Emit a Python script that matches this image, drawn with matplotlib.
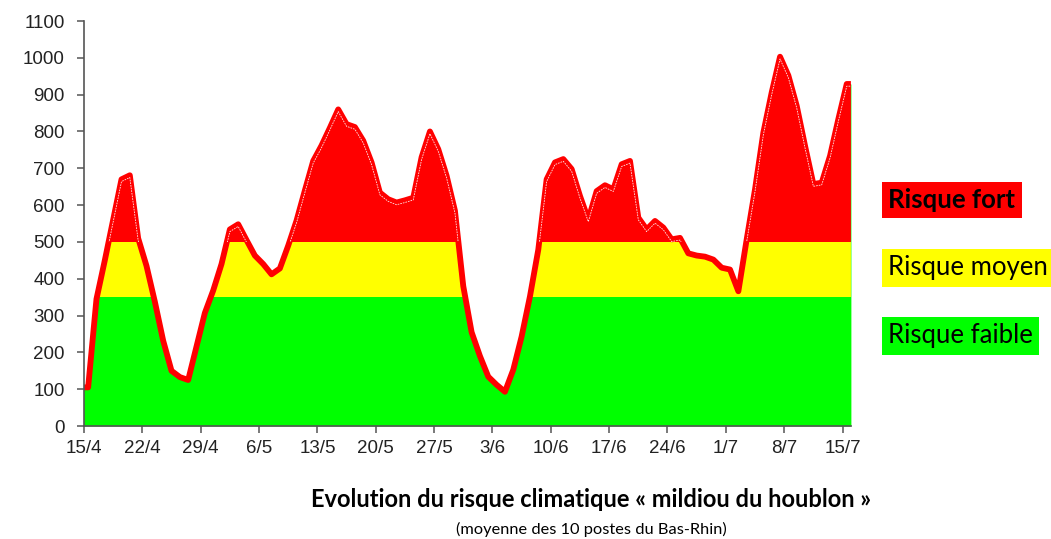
import numpy as np
import matplotlib
matplotlib.use('Agg')
import matplotlib.pyplot as plt

# Daily risk index (mean of 10 stations), starting 15/4
risk = [105, 345, 450, 560, 670, 681, 510, 435, 338, 232,
        150, 133, 125, 216, 307, 368, 440, 534, 548, 505,
        463, 440, 412, 428, 490, 558, 640, 720, 762, 810,
        860, 820, 812, 775, 716, 634, 616, 607, 613, 620,
        730, 800, 752, 680, 585, 380, 255, 190, 134, 112,
        93, 153, 243, 352, 479, 670, 716, 725, 698, 625,
        561, 638, 654, 643, 711, 720, 566, 534, 557, 539,
        507, 511, 469, 463, 460, 452, 430, 425, 366, 507,
        643, 797, 906, 1003, 952, 870, 761, 657, 661, 734,
        834, 929]
tick_labels = ['15/4', '22/4', '29/4', '6/5', '13/5', '20/5', '27/5',
               '3/6', '10/6', '17/6', '24/6', '1/7', '8/7', '15/7']
thresholds = [350, 500]
band_labels = ['Risque faible', 'Risque moyen', 'Risque fort']
band_colors = ['#00FF00', '#FFFF00', '#FF0000']
title = 'Evolution du risque climatique « mildiou du houblon »'
subtitle = '(moyenne des 10 postes du Bas-Rhin)'

v = np.array(risk, dtype=float)
n = len(v)
x = np.arange(n) + 0.5
# extend to the plot edges (category-style axis)
xe = np.concatenate([[0], x, [n]])
ve = np.concatenate([[v[0]], v, [v[-1]]])

fig = plt.figure(figsize=(10.51, 5.39), dpi=100)
ax = fig.add_axes([0.0799, 0.2096, 0.7297, 0.7514])
ymax = 1100
ax.set_xlim(0, n)
ax.set_ylim(0, ymax)

poly = ax.fill_between(xe, 0, ve, color=band_colors[0], lw=0, zorder=1)
clip_path = poly.get_paths()[0]
edges = [0] + thresholds + [ymax]
spans = []
for lo, hi, c in zip(edges[:-1], edges[1:], band_colors):
    sp = ax.axhspan(lo, hi, color=c, lw=0, zorder=2)
    sp.set_clip_path(clip_path, ax.transData)
    spans.append(sp)

ax.plot(xe, ve, color='#FF0000', lw=4.2, zorder=4, solid_joinstyle='round',
        solid_capstyle='butt')
wl, = ax.plot(xe, ve - 6, color='white', lw=0.6, ls=(0, (2, 1.2)), zorder=5,
              alpha=0.9)
wl.set_clip_path(spans[2])

ax.set_xticks(np.arange(0, n, 7))
ax.set_xticklabels(tick_labels)
ax.set_yticks(np.arange(0, ymax + 1, 100))
for s in ['top', 'right']:
    ax.spines[s].set_visible(False)
for s in ['left', 'bottom']:
    ax.spines[s].set_color('#555555')
    ax.spines[s].set_linewidth(1.2)
    ax.spines[s].set_zorder(6)
ax.tick_params(axis='both', colors='#555555', length=5, width=1.1,
               labelcolor='#222222', labelsize=13.5)
ax.tick_params(axis='y', pad=9)
ax.tick_params(axis='x', pad=5)
for lab in ax.get_xticklabels() + ax.get_yticklabels():
    lab.set_family('Liberation Sans')

legend_y = [0.377, 0.503, 0.629]
for lab, c, yy in zip(band_labels, band_colors, legend_y):
    fig.text(0.845, yy, lab, fontsize=18.5, family='Lato',
             fontweight='bold' if c == '#FF0000' else 'normal',
             va='center', ha='left', color='black',
             bbox=dict(facecolor=c, edgecolor='none', boxstyle='square,pad=0.25'))

fig.text(0.5625, 0.073, title, ha='center', va='center', fontsize=17,
         fontweight='bold', family='Lato')
fig.text(0.5625, 0.017, subtitle, ha='center', va='center', fontsize=11.8,
         family='Lato')

fig.savefig('out.png', dpi=100)
